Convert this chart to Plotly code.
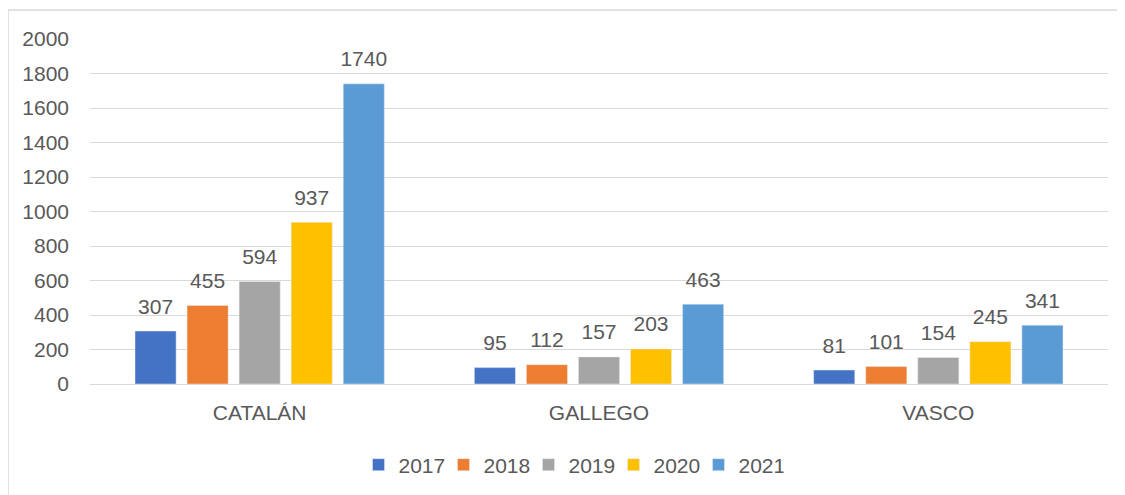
import plotly.graph_objects as go

categories = ["CATALÁN", "GALLEGO", "VASCO"]
years = ["2017", "2018", "2019", "2020", "2021"]
values = {
    "2017": [307, 95, 81],
    "2018": [455, 112, 101],
    "2019": [594, 157, 154],
    "2020": [937, 203, 245],
    "2021": [1740, 463, 341],
}
colors = ["#4472C4", "#ED7D31", "#A5A5A5", "#FFC000", "#5B9BD5"]
y_ticks = list(range(0, 2001, 200))

FONT = "Liberation Sans, Arial, sans-serif"
TXT = "#595959"
FS = 21

fig = go.Figure()
for yr, col in zip(years, colors):
    fig.add_trace(go.Bar(
        x=categories, y=values[yr], name=yr, marker_color=col,
        offsetgroup=yr, alignmentgroup="a",
    ))
for yr in years:
    fig.add_trace(go.Scatter(
        x=categories, y=values[yr], mode="markers+text", showlegend=False,
        text=[str(v) for v in values[yr]], textposition="top center",
        marker=dict(size=18, opacity=0), hoverinfo="skip",
        textfont=dict(size=FS, color=TXT, family=FONT), cliponaxis=False,
        offsetgroup=yr, alignmentgroup="a",
    ))

# page is offset by 8px body margin
OFF = 8
W, H = 1125, 495
L, T = 90 - OFF, 39 - OFF
R = W - (1108 - OFF)
B = H - (384 - OFF)
pw, ph = W - L - R, H - T - B
bx = (8 - 90) / pw
by = 1 + (39 - 10) / ph

fig.update_layout(
    width=W, height=H,
    margin=dict(l=L, r=R, t=T, b=B),
    paper_bgcolor="white", plot_bgcolor="white",
    barmode="group", bargap=0.233, bargroupgap=0.21,
    scattermode="group", scattergap=0.233,
    font=dict(family=FONT, size=FS, color=TXT),
    showlegend=True,
    legend=dict(orientation="h", x=(571 - 90) / pw, xanchor="center",
                y=(384 - 465) / ph, yanchor="middle",
                entrywidth=40, entrywidthmode="pixels",
                font=dict(size=FS, color=TXT), itemwidth=30, traceorder="normal"),
    xaxis=dict(showgrid=False, showline=True, linecolor="#d9d9d9", linewidth=1,
               ticks="", ticklabelstandoff=10, tickfont=dict(size=FS, color=TXT)),
    yaxis=dict(range=[0, 2000], tickvals=y_ticks, showgrid=True, gridcolor="#d9d9d9",
               gridwidth=1, zeroline=False, ticks="", ticklabelstandoff=20,
               tickfont=dict(size=FS, color=TXT)),
    shapes=[
        dict(type="line", xref="paper", yref="paper", x0=bx, x1=1.5, y0=by, y1=by,
             line=dict(color="#d9d9d9", width=1.5)),
        dict(type="line", xref="paper", yref="paper", x0=bx, x1=bx, y0=by, y1=-1,
             line=dict(color="#d9d9d9", width=1.5)),
    ],
)

fig.write_html("out.html")
